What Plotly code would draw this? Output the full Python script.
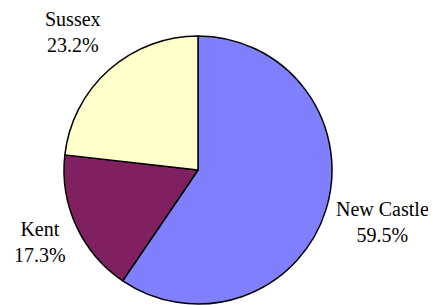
import plotly.graph_objects as go

labels = ["New Castle", "Kent", "Sussex"]
values = [59.5, 17.3, 23.2]
colors = ["#8080FF", "#802060", "#FFFFCC"]

# page body has an 8px margin; figure placed at (8, 8)
OFF = 8
W, H = 436 - OFF, 305 - OFF
cx, cy, r = 198 - OFF, 170 - OFF, 134

fig = go.Figure(go.Pie(
    labels=labels, values=values, sort=False, direction="clockwise", rotation=0,
    marker=dict(colors=colors, line=dict(color="black", width=1.5)),
    textinfo="none", hoverinfo="label+percent", showlegend=False,
    domain=dict(x=[(cx - r) / W, (cx + r) / W], y=[(H - cy - r) / H, (H - cy + r) / H]),
))

label_pos = {"New Castle": (382, 222), "Kent": (40, 242), "Sussex": (73, 32)}
anns = []
for lab, val in zip(labels, values):
    px, py = label_pos[lab]
    px, py = px - OFF, py - OFF
    anns.append(dict(
        x=px / W, y=1 - py / H, xref="paper", yref="paper", showarrow=False,
        text=f"{lab}<br>{val:.1f}%", align="center", xanchor="center", yanchor="middle",
        font=dict(family="Liberation Serif", size=20, color="black"),
    ))

fig.update_layout(
    width=W, height=H, margin=dict(l=0, r=0, t=0, b=0),
    paper_bgcolor="white", plot_bgcolor="white", annotations=anns,
)
fig.write_html("out.html")
